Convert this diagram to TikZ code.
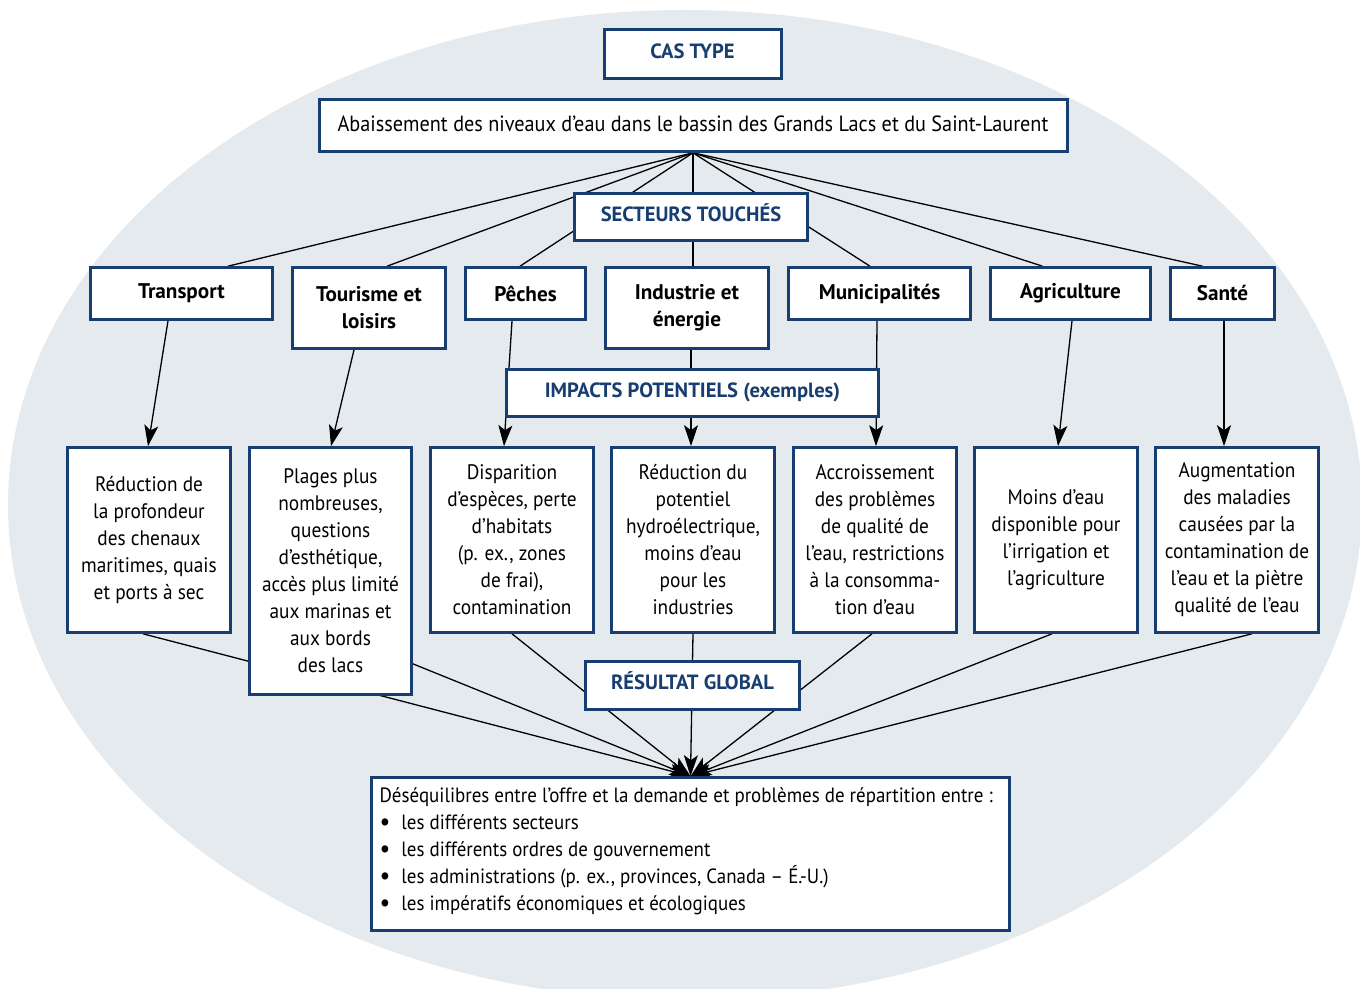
\documentclass[tikz,border=0pt]{standalone}
\usepackage{fontspec}
\setmainfont{PT Sans}[UprightFeatures={FakeStretch=0.92},ItalicFeatures={FakeStretch=0.92}]
\usetikzlibrary{arrows.meta,calc,backgrounds}
\definecolor{navy}{RGB}{24,61,112}
\definecolor{mist}{RGB}{229,234,239}
\newcommand{\puce}{\raisebox{-0.6pt}{\fontsize{13pt}{13pt}\selectfont •}\hspace{5.5pt}}

\begin{document}
\begin{tikzpicture}[x=0.5pt,y=-0.5pt,
  box/.style={draw=navy,line width=1.5pt,fill=white,inner sep=0pt,align=center,
              font=\fontsize{10.5pt}{13.5pt}\selectfont},
  titlebox/.style={box,font=\fontsize{10.3pt}{12pt}\selectfont\bfseries,text=navy,
                   text height=7.3pt,text depth=3pt},
  sectorbox/.style={box,font=\fontsize{10.6pt}{13.5pt}\selectfont\bfseries},
  impactbox/.style={box,minimum width=81.3pt,minimum height=92.3pt},
  link/.style={draw=black,line width=0.65pt},
  arrowlink/.style={link,-{Stealth[length=10.5pt,width=7pt,inset=2.5pt]}},
]
\useasboundingbox (0,0) rectangle (1360,989);

% header
\node[titlebox,minimum width=88.5pt,minimum height=24.5pt] (castype) at (692.5,54.5) {CAS TYPE};
\node[box,minimum width=374pt,minimum height=25.8pt,text depth=2pt,
      font=\fontsize{11pt}{13.5pt}\selectfont] (abaiss) at (693,125.5)
  {Abaissement des niveaux d’eau dans le bassin des Grands Lacs et du Saint-Laurent};
\node[titlebox,minimum width=116.3pt,minimum height=23.3pt] (secteurs) at (691,217) {SECTEURS TOUCHÉS};

% sectors
\node[sectorbox,minimum width=90.8pt,minimum height=25.8pt] (transport) at (181.5,293.5) {Transport};
\node[sectorbox,minimum width=76.3pt,minimum height=40.3pt] (tourisme) at (369,308) {Tourisme et\\loisirs};
\node[sectorbox,minimum width=59.8pt,minimum height=25.8pt] (peches) at (525.5,293.5) {Pêches};
\node[sectorbox,minimum width=81.3pt,minimum height=40.3pt] (industrie) at (687,308) {Industrie et\\énergie};
\node[sectorbox,minimum width=90.8pt,minimum height=25.8pt] (municip) at (879.5,293.5) {Municipalités};
\node[sectorbox,minimum width=79.8pt,minimum height=25.8pt] (agri) at (1070.5,293.5) {Agriculture};
\node[sectorbox,minimum width=51.8pt,minimum height=25.8pt] (sante) at (1222.5,293.5) {Santé};

\node[titlebox,minimum width=185.8pt,minimum height=23.3pt] (impacts) at (692.5,393) {IMPACTS POTENTIELS (exemples)};

% impacts
\node[impactbox] (chenaux) at (149,540) {Réduction de\\la profondeur\\des chenaux\\maritimes, quais\\et ports à sec};
\node[impactbox,minimum width=80.8pt,minimum height=123.3pt] (plages) at (330.5,571)
  {Plages plus\\nombreuses,\\questions\\d’esthétique,\\accès plus limité\\aux marinas et\\aux bords\\des lacs};
\node[impactbox] (especes) at (512,540) {Disparition\\d’espèces, perte\\d’habitats\\(p. ex., zones\\de frai),\\contamination};
\node[impactbox] (hydro) at (693,540) {Réduction du\\potentiel\\hydroélectrique,\\moins d’eau\\pour les\\industries};
\node[impactbox] (qualite) at (875,540) {Accroissement\\des problèmes\\de qualité de\\l’eau, restrictions\\à la consomma-\\tion d’eau};
\node[impactbox] (irrigation) at (1056,540) {Moins d’eau\\disponible pour\\l’irrigation et\\l’agriculture};
\node[impactbox] (maladies) at (1237,540) {Augmentation\\des maladies\\causées par la\\contamination de\\l’eau et la piètre\\qualité de l’eau};

\node[titlebox,minimum width=106.8pt,minimum height=23.8pt] (resultat) at (692.5,685.5) {RÉSULTAT GLOBAL};

% overall outcome
\node[box,minimum width=318.8pt,minimum height=76.3pt] (bilan) at (690.5,854) {};
\node[anchor=north west,inner sep=0pt,align=left,font=\fontsize{10.3pt}{13.5pt}\selectfont]
  (bilantexte) at ($(bilan.north west)+(9,11)$)
  {Déséquilibres entre l’offre et la demande et problèmes de répartition entre :\\
   \puce les différents secteurs\\
   \puce les différents ordres de gouvernement\\
   \puce les administrations (p. ex., provinces, Canada – É.-U.)\\
   \puce les impératifs économiques et écologiques};

\begin{scope}[on background layer]
  \fill[mist] (685,505) ellipse [x radius=338.5pt,y radius=247.5pt];

  % water levels to sectors
  \draw[link] (abaiss.south) -- ($(transport.north)+(46.5,0)$);
  \draw[link] (abaiss.south) -- ($(tourisme.north)+(18,0)$);
  \draw[link] (abaiss.south) -- ($(peches.north)+(-5.5,0)$);
  \draw[link] (abaiss.south) -- (abaiss.south |- industrie.north);
  \draw[link] (abaiss.south) -- ($(municip.north)+(-9.5,0)$);
  \draw[link] (abaiss.south) -- ($(agri.north)+(-28,0)$);
  \draw[link] (abaiss.south) -- ($(sante.north)+(-20,0)$);

  % sectors to impacts
  \draw[arrowlink] ($(transport.south)+(-13.5,0)$) -- ($(chenaux.north)+(-1,0)$);
  \draw[arrowlink] ($(tourisme.south)+(-15,0)$) -- ($(plages.north)+(0.5,0)$);
  \draw[arrowlink] ($(peches.south)+(-13.5,0)$) -- ($(especes.north)+(-8,0)$);
  \draw[arrowlink] ($(industrie.south)+(4,0)$) -- ($(hydro.north)+(-2,0)$);
  \draw[arrowlink] ($(municip.south)+(-2.5,0)$) -- ($(qualite.north)+(1,0)$);
  \draw[arrowlink] ($(agri.south)+(1.5,0)$) -- ($(irrigation.north)+(2,0)$);
  \draw[arrowlink] ($(sante.south)+(1.5,0)$) -- ($(maladies.north)+(-13,0)$);

  % impacts to overall outcome
  \draw[arrowlink] ($(chenaux.south)+(-6,0)$) -- (bilan.north);
  \draw[arrowlink] ($(plages.south east)+(0,-32)$) -- (bilan.north);
  \draw[arrowlink] (especes.south) -- (bilan.north);
  \draw[arrowlink] (hydro.south) -- (bilan.north);
  \draw[arrowlink] ($(qualite.south)+(-3,0)$) -- (bilan.north);
  \draw[arrowlink] ($(irrigation.south)+(-4,0)$) -- (bilan.north);
  \draw[arrowlink] ($(maladies.south)+(15,0)$) -- (bilan.north);
\end{scope}
\end{tikzpicture}
\end{document}
